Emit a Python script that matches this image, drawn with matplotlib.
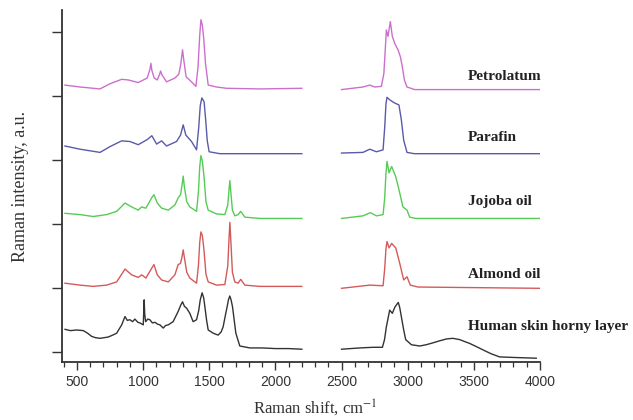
import matplotlib
matplotlib.use("Agg")
import matplotlib.pyplot as plt
from matplotlib.ticker import MultipleLocator

plt.rcParams["mathtext.fontset"] = "stix"

# spectra (intensity above each trace's own offset)
petro_lo_x = [409, 523, 674, 749, 838, 888, 963, 1031, 1052, 1059, 1066, 1084, 1107, 1125, 1132, 1140, 1152, 1177,
              1240, 1270, 1285, 1298, 1308, 1325, 1366, 1399, 1415, 1428, 1437, 1448, 1458, 1472, 1492, 1555,
              1631, 1882, 2200]
petro_lo_y = [.17, .14, .11, .19, .26, .25, .21, .28, .42, .51, .40, .28, .25, .34, .39, .34, .30, .22,
              .28, .34, .50, .72, .55, .30, .22, .15, .45, .95, 1.19, 1.10, .90, .50, .17, .14,
              .12, .11, .12]
petro_hi_x = [2500, 2662, 2713, 2751, 2801, 2820, 2830, 2839, 2851, 2869, 2884, 2902, 2927, 2945, 2960, 2975,
              2995, 3053, 4000]
petro_hi_y = [.10, .14, .17, .14, .15, .35, .70, 1.03, .93, 1.16, .93, .82, .72, .61, .45, .25, .14, .10, .10]

paraf_lo_x = [409, 523, 674, 749, 838, 900, 963, 1031, 1066, 1102, 1140, 1177, 1253, 1283, 1303, 1323, 1366, 1404,
              1420, 1432, 1444, 1461, 1472, 1485, 1499, 1580, 2200]
paraf_lo_y = [.22, .17, .12, .21, .30, .29, .24, .32, .38, .25, .30, .22, .29, .39, .55, .39, .29, .16,
              .50, .85, .97, .91, .65, .30, .13, .10, .10]
paraf_hi_x = [2500, 2662, 2713, 2764, 2814, 2826, 2836, 2844, 2864, 2902, 2934, 2952, 2970, 2995, 3050, 4000]
paraf_hi_y = [.11, .12, .17, .13, .16, .50, .88, .98, .94, .89, .86, .63, .31, .12, .10, .10]

jojo_lo_x = [409, 523, 623, 724, 800, 863, 913, 963, 989, 1021, 1064, 1082, 1107, 1140, 1190, 1240, 1265, 1283,
             1295, 1303, 1312, 1330, 1353, 1404, 1418, 1428, 1437, 1448, 1460, 1475, 1492, 1555, 1618, 1640,
             1650, 1656, 1663, 1675, 1693, 1718, 1738, 1769, 1882, 2200]
jojo_lo_y = [.17, .15, .12, .15, .20, .33, .27, .22, .27, .25, .41, .46, .33, .25, .22, .30, .41, .46,
             .62, .75, .58, .35, .27, .20, .50, .90, 1.07, .98, .75, .35, .22, .16, .15, .30,
             .55, .68, .50, .22, .13, .15, .20, .11, .09, .09]
jojo_hi_x = [2500, 2662, 2718, 2764, 2814, 2826, 2836, 2844, 2859, 2879, 2910, 2934, 2964, 2995, 3015, 3060, 4000]
jojo_hi_y = [.09, .13, .18, .13, .15, .40, .80, .98, .80, .90, .74, .54, .27, .22, .11, .09, .09]

almond_lo_x = [409, 523, 623, 724, 800, 863, 913, 963, 989, 1021, 1064, 1082, 1107, 1140, 1190, 1240, 1265, 1283,
               1295, 1303, 1312, 1330, 1353, 1404, 1418, 1428, 1437, 1448, 1460, 1475, 1492, 1555, 1618, 1640,
               1650, 1656, 1663, 1675, 1693, 1718, 1738, 1769, 1882, 2200]
almond_lo_y = [.08, .05, .03, .05, .10, .30, .21, .17, .21, .16, .31, .37, .21, .13, .10, .21, .37, .39,
               .50, .60, .48, .25, .16, .08, .35, .72, .88, .82, .60, .22, .10, .05, .06, .35,
               .80, 1.03, .75, .25, .10, .08, .14, .05, .03, .03]
almond_hi_x = [2500, 2713, 2814, 2826, 2836, 2844, 2859, 2879, 2910, 2940, 2970, 2995, 3020, 3078, 4000]
almond_hi_y = [.00, .05, .04, .30, .62, .73, .63, .70, .63, .39, .13, .18, .05, .02, .00]

skin_lo_x = [410, 450, 498, 548, 580, 611, 640, 674, 705, 736, 770, 800, 838, 863, 880, 900, 920, 938, 960, 976,
             1001, 1005, 1008, 1012, 1019, 1035, 1051, 1070, 1089, 1110, 1127, 1152, 1170, 1190, 1227, 1265,
             1285, 1298, 1312, 1329, 1353, 1378, 1404, 1420, 1432, 1446, 1458, 1467, 1480, 1492, 1530, 1567,
             1590, 1605, 1622, 1635, 1645, 1655, 1665, 1676, 1701, 1731, 1807, 1900, 2000, 2100, 2200]
skin_lo_y = [.36, .34, .35, .34, .30, .25, .23, .22, .23, .24, .27, .30, .43, .56, .50, .51, .48, .52, .47, .46,
             .43, .65, .82, .60, .48, .52, .51, .46, .47, .44, .43, .38, .42, .43, .48, .64,
             .74, .79, .72, .69, .61, .48, .51, .65, .82, .93, .85, .71, .50, .35, .30, .27,
             .32, .40, .58, .71, .82, .88, .82, .71, .30, .10, .07, .07, .06, .06, .05]
skin_hi_x = [2500, 2638, 2738, 2809, 2825, 2839, 2864, 2884, 2904, 2929, 2940, 2952, 2970, 2985, 3028, 3091, 3140,
             3192, 3240, 3293, 3340, 3393, 3430, 3469, 3520, 3569, 3630, 3695, 3821, 3972]
skin_hi_y = [.05, .07, .08, .08, .20, .40, .66, .61, .71, .78, .70, .56, .35, .20, .12, .10, .12,
             .15, .18, .21, .22, .20, .17, .14, .09, .04, -.02, -.07, -.08, -.09]

names = ["Human skin horny layer", "Almond oil", "Jojoba oil", "Parafin", "Petrolatum"]
offsets = [0, 1, 2, 3, 4]
label_y = [0.40, 0.21, 0.35, 0.35, 0.31]

spectra = [(skin_lo_x, skin_lo_y, skin_hi_x, skin_hi_y),
           (almond_lo_x, almond_lo_y, almond_hi_x, almond_hi_y),
           (jojo_lo_x, jojo_lo_y, jojo_hi_x, jojo_hi_y),
           (paraf_lo_x, paraf_lo_y, paraf_hi_x, paraf_hi_y),
           (petro_lo_x, petro_lo_y, petro_hi_x, petro_hi_y)]
colors = ["#333333", "#d45a5a", "#55cc55", "#5a5aaa", "#cc6fcc"]

fig = plt.figure(figsize=(6.33, 4.2), dpi=100)
ax = fig.add_axes([0.098, 0.138, 0.755, 0.838])

for (lx, ly, hx, hy), off, c, name, ty in zip(spectra, offsets, colors, names, label_y):
    ax.plot(lx, [v + off for v in ly], color=c, lw=1.0)
    ax.plot(hx, [v + off for v in hy], color=c, lw=1.0)
    ax.text(3453, off + ty, name, family="Liberation Serif", fontweight="bold",
            fontsize=11, color="#222222", va="center", ha="left", clip_on=False)

ax.set_xlim(387, 4000)
ax.set_ylim(-0.15, 5.34)
ax.xaxis.set_major_locator(MultipleLocator(500))
ax.xaxis.set_minor_locator(MultipleLocator(100))
ax.set_yticks(offsets + [5])
ax.set_yticklabels([])
ax.tick_params(axis="x", which="major", direction="out", length=6, width=1, color="#333333",
               labelsize=10, labelcolor="#333333")
ax.tick_params(axis="x", which="minor", direction="out", length=3.5, width=0.9, color="#333333")
ax.tick_params(axis="y", direction="out", length=7, width=1, color="#333333")
for lab in ax.get_xticklabels():
    lab.set_family("Liberation Sans")

ax.spines["top"].set_visible(False)
ax.spines["right"].set_visible(False)
ax.spines["left"].set_color("#333333")
ax.spines["bottom"].set_color("#333333")
ax.spines["left"].set_linewidth(1.3)
ax.spines["bottom"].set_linewidth(1.3)

ax.set_xlabel("Raman shift, cm$^{-1}$", family="Liberation Serif", fontsize=12, color="#333333")
ax.xaxis.set_label_coords(0.53, -0.10)
ax.set_ylabel("Raman intensity, a.u.", family="Liberation Serif", fontsize=13, color="#333333", labelpad=13)

fig.savefig("out.png", dpi=100)
